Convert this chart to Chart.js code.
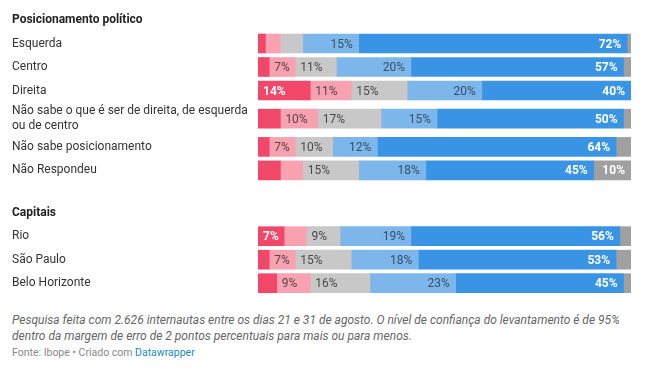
<!DOCTYPE html>
<html>
<head>
<meta charset="utf-8">
<script src="https://cdn.jsdelivr.net/npm/chart.js@4.4.0/dist/chart.umd.min.js"></script>
<style>
  body { margin: 0; background: #fff; font-family: Roboto, sans-serif; }
  #wrap { position: relative; width: 651px; height: 390px; }
  #grafico { position: absolute; left: 0; top: 0; }
  .nota { position: absolute; left: 12px; top: 312px; font-size: 12px; font-style: italic; line-height: 16px; color: #666; }
  .fonte { position: absolute; left: 12px; top: 346px; font-size: 10.5px; color: #888; }
  .fonte a { color: #1d8bb5; text-decoration: none; }
</style>
</head>
<body>
<div id="wrap">
  <canvas id="grafico" width="651" height="300"></canvas>
  <div class="nota">Pesquisa feita com 2.626 internautas entre os dias 21 e 31 de agosto. O nível de confiança do levantamento é de 95%<br>dentro da margem de erro de 2 pontos percentuais para mais ou para menos.</div>
  <div class="fonte">Fonte: Ibope • Criado com <a href="#">Datawrapper</a></div>
</div>
<script>
// grupos e categorias (na ordem em que aparecem)
var grupos = ["Posicionamento político", "Capitais"];
var categoriasPosicao = ["Esquerda", "Centro", "Direita", ["Não sabe o que é ser de direita, de esquerda", "ou de centro"], "Não sabe posicionamento", "Não Respondeu"];
var categoriasCapitais = ["Rio", "São Paulo", "Belo Horizonte"];

// valores em % (posicionamento político primeiro, depois capitais)
var serieA = [2, 3, 14, 6, 3, 6, 7, 3, 5];
var serieB = [4, 7, 11, 10, 7, 6, 6, 7, 9];
var serieC = [6, 11, 15, 17, 10, 15, 9, 15, 16];
var serieD = [15, 20, 20, 15, 12, 18, 19, 18, 23];
var serieE = [72, 57, 40, 50, 64, 45, 56, 53, 45];
var serieF = [1, 2, 1, 2, 4, 10, 3, 4, 2];

var LINHA_PX = 23.5; // altura de uma linha simples
var TOPO_PX = 20;    // centro do primeiro título

// monta as linhas (títulos + categorias) e a posição de cada uma em "linhas"
var linhas = [];
var pos = 0;
var ultimaAltura = 1;
[categoriasPosicao, categoriasCapitais].forEach(function (cats, g) {
  if (g > 0) pos += ultimaAltura / 2 + 0.8 + 0.5;
  linhas.push({ rotulo: grupos[g], titulo: true, pos: pos });
  ultimaAltura = 1;
  cats.forEach(function (c) {
    var altura = Array.isArray(c) ? 1.4 : 1;
    pos += (ultimaAltura + altura) / 2;
    linhas.push({ rotulo: c, titulo: false, pos: pos });
    ultimaAltura = altura;
  });
});
var barras = linhas.filter(function (l) { return !l.titulo; });

function montaDados(serie) {
  return serie.map(function (v, i) { return { x: v, y: barras[i].pos }; });
}

// rótulos de valor dentro das barras
var rotuloValores = {
  id: "rotuloValores",
  afterDatasetsDraw: function (chart) {
    var ctx = chart.ctx;
    chart.data.datasets.forEach(function (ds, i) {
      var meta = chart.getDatasetMeta(i);
      meta.data.forEach(function (bar, j) {
        var v = ds.data[j].x;
        if (v < 7) return;
        var esq = Math.min(bar.x, bar.base);
        var dir = Math.max(bar.x, bar.base);
        ctx.save();
        ctx.font = (ds.rotuloNegrito ? "bold " : "") + "12px Roboto";
        ctx.fillStyle = ds.rotuloCor;
        ctx.textBaseline = "middle";
        if (ds.alinhar == "esquerda") {
          ctx.textAlign = "left";
          ctx.fillText(v + "%", esq + 5, bar.y + 1);
        } else {
          ctx.textAlign = "right";
          ctx.fillText(v + "%", dir - 6, bar.y + 1);
        }
        ctx.restore();
      });
    });
  }
};

var estilo = { barThickness: 19, borderWidth: 0 };

var grafico = new Chart(document.getElementById("grafico").getContext("2d"), {
  type: "bar",
  data: {
    datasets: [
      Object.assign({ label: "A", data: montaDados(serieA), backgroundColor: "#f1486a", rotuloCor: "#fff", rotuloNegrito: true, alinhar: "esquerda" }, estilo),
      Object.assign({ label: "B", data: montaDados(serieB), backgroundColor: "#f8a1b0", rotuloCor: "#5a4448", rotuloNegrito: false, alinhar: "esquerda" }, estilo),
      Object.assign({ label: "C", data: montaDados(serieC), backgroundColor: "#c8c8c8", rotuloCor: "#4a4a4a", rotuloNegrito: false, alinhar: "esquerda" }, estilo),
      Object.assign({ label: "D", data: montaDados(serieD), backgroundColor: "#7db6ea", rotuloCor: "#35506a", rotuloNegrito: false, alinhar: "direita" }, estilo),
      Object.assign({ label: "E", data: montaDados(serieE), backgroundColor: "#3a94e6", rotuloCor: "#fff", rotuloNegrito: true, alinhar: "direita" }, estilo),
      Object.assign({ label: "F", data: montaDados(serieF), backgroundColor: "#a0a0a0", rotuloCor: "#fff", rotuloNegrito: true, alinhar: "direita" }, estilo)
    ]
  },
  options: {
    indexAxis: "y",
    responsive: false,
    animation: false,
    layout: { padding: { left: 12, right: 20, top: 0, bottom: 0 } },
    plugins: { legend: { display: false }, tooltip: { enabled: false } },
    scales: {
      x: { stacked: true, min: 0, max: 100, display: false },
      y: {
        type: "linear",
        stacked: true,
        reverse: true,
        offset: false,
        min: -1,
        max: 12,
        grid: { display: false },
        border: { display: false },
        afterBuildTicks: function (scale) {
          scale.ticks = linhas.map(function (l) { return { value: l.pos }; });
        },
        afterFit: function (scale) {
          scale.width = 246;
          scale.paddingTop = 0;
          scale.paddingBottom = 0;
        },
        ticks: {
          autoSkip: false,
          crossAlign: "far",
          padding: 0,
          color: function (c) { return linhas[c.index] && linhas[c.index].titulo ? "#222" : "#333"; },
          font: function (c) {
            var t = linhas[c.index] && linhas[c.index].titulo;
            return { family: "Roboto", size: 12, weight: t ? "bold" : "normal", lineHeight: 1.25 };
          },
          callback: function (v, i) { return linhas[i].rotulo; }
        }
      }
    }
  },
  plugins: [rotuloValores]
});

// ajusta min/max para que cada linha fique na altura certa em pixels
var area = grafico.chartArea;
grafico.options.scales.y.min = (area.top - TOPO_PX) / LINHA_PX;
grafico.options.scales.y.max = (area.bottom - TOPO_PX) / LINHA_PX;
grafico.update();
</script>
</body>
</html>
